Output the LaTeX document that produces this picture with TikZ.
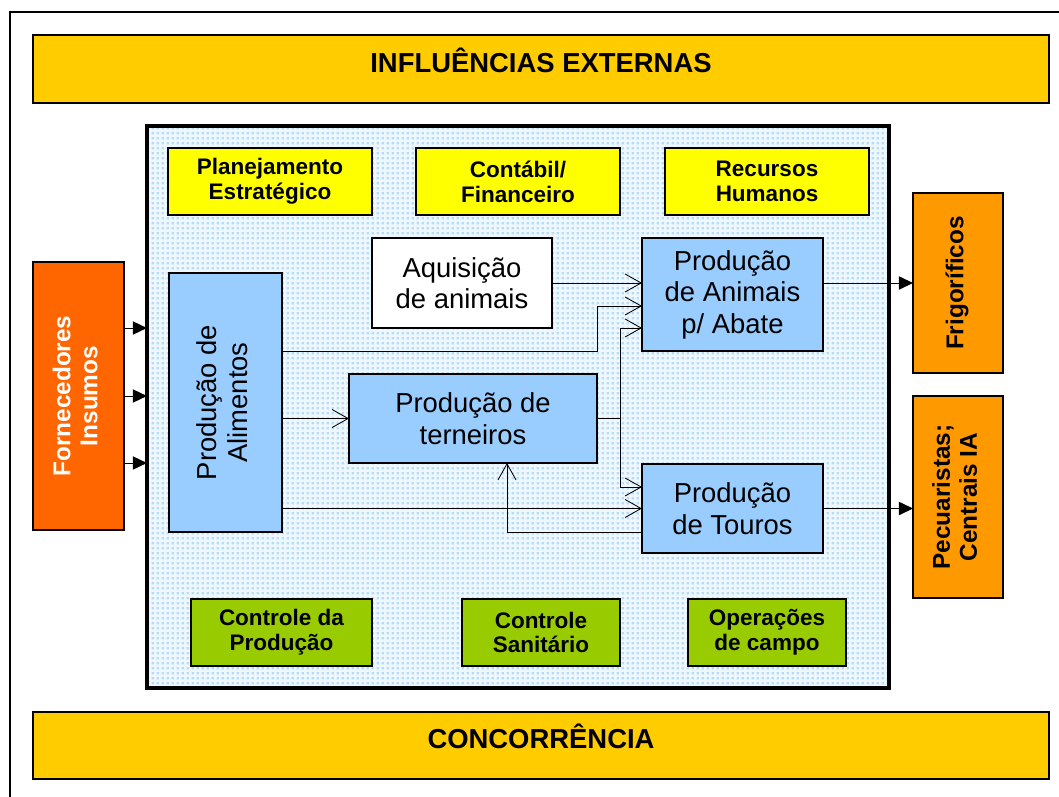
\documentclass[tikz,border=0pt]{standalone}
\usepackage{fontspec}
\setmainfont{Liberation Sans}
\usetikzlibrary{arrows.meta,patterns.meta}
\definecolor{bannergold}{HTML}{FFCC00}
\definecolor{deptyellow}{HTML}{FFFF00}
\definecolor{ctrlgreen}{HTML}{99CC00}
\definecolor{prodblue}{HTML}{99CCFF}
\definecolor{supplyorange}{HTML}{FF6600}
\definecolor{marketorange}{HTML}{FF9900}
\definecolor{farmback}{HTML}{EFF7FE}
\definecolor{dotblue}{HTML}{B6DCF8}
\tikzdeclarepattern{
  name=speckle,
  type=uncolored,
  bounding box={(0pt,0pt) and (3.6pt,3.6pt)},
  tile size={(3.6pt,3.6pt)},
  code={\fill (0.5pt,0.5pt) rectangle (2.5pt,2.5pt);}
}
\newcommand{\vlabel}[1]{\rotatebox{90}{\begin{tabular}{@{}c@{}}#1\end{tabular}}}
\begin{document}
\begin{tikzpicture}[x=0.025cm,y=-0.025cm,inner sep=2pt,outer sep=0pt,
banner/.style={draw,line width=1pt,fill=bannergold,minimum width=25.4cm,minimum height=1.7cm,text height=16pt,text depth=11.2pt,font=\fontsize{19.5}{22}\selectfont\bfseries},
deptbox/.style={draw,line width=1pt,fill=deptyellow,minimum width=5.1cm,minimum height=1.675cm,align=center,font=\fontsize{16}{17.7}\selectfont\bfseries},
ctrlbox/.style={deptbox,fill=ctrlgreen,minimum width=3.95cm},
prodbox/.style={draw,line width=1pt,fill=prodblue,align=center,font=\fontsize{19.5}{22.4}\selectfont},
marketbox/.style={draw,line width=1pt,fill=marketorange,minimum width=2.25cm,font=\fontsize{17.3}{19.2}\selectfont\bfseries},
flow/.style={line width=0.6pt,-{Straight Barb[length=0.4cm,width=0.45cm]}},
supply/.style={line width=0.7pt,-{Triangle[length=0.35cm,width=0.33cm]}}]

\useasboundingbox (0,0) rectangle (1059,796);
\draw[line width=0.8pt] (1070,12) -| (10,810);

\draw (541,69) node[banner] (ext) {INFLUÊNCIAS EXTERNAS};
\draw (541,745.5) node[banner,minimum height=1.675cm] (conc) {CONCORRÊNCIA};
\draw (518,407) node[draw,line width=2.8pt,preaction={fill=farmback},pattern=speckle,pattern color=dotblue,minimum width=18.55cm,minimum height=14.05cm] (farm) {};

\draw (270,181.5) node[deptbox] (plan) {Planejamento\\Estratégico};
\draw (518,181.5) node[deptbox] (cont) {Contábil/\\Financeiro};
\draw (767,181.5) node[deptbox] (rh) {Recursos\\Humanos};

\draw (462,283) node[prodbox,fill=white,minimum width=4.5cm,minimum height=2.25cm] (aqui) {Aquisição\\de animais};
\draw (225.5,402.5) node[prodbox,minimum width=2.825cm,minimum height=6.475cm] (alim) {\vlabel{Produção de\\Alimentos}};
\draw (473,418.5) node[prodbox,minimum width=6.2cm,minimum height=2.225cm] (tern) {Produção de\\terneiros};
\draw (732.5,294.5) node[prodbox,minimum width=4.525cm,minimum height=2.825cm] (abate) {Produção\\de Animais\\p/ Abate};
\draw (732.5,508.5) node[prodbox,minimum width=4.525cm,minimum height=2.225cm] (touros) {Produção\\de Touros};

\draw (78.5,396) node[marketbox,fill=supplyorange,text=white,minimum width=2.275cm,minimum height=6.7cm] (forn) {\vlabel{Fornecedores\\Insumos}};
\draw (958,283) node[marketbox,minimum height=4.5cm] (frig) {\vlabel{Frigoríficos}};
\draw (958,497) node[marketbox,minimum height=5.05cm] (pec) {\vlabel{Pecuaristas;\\Centrais IA}};

\draw (281.5,632.5) node[ctrlbox,minimum width=4.525cm] (cprod) {Controle da\\Produção};
\draw (541,632.5) node[ctrlbox] (csan) {Controle\\Sanitário};
\draw (767,632.5) node[ctrlbox] (oper) {Operações\\de campo};

\foreach \yy in {328,396,463}
  \draw[supply] (forn.east |- 0,\yy) -- (farm.west |- 0,\yy);
\draw[flow] (aqui.east) -- (aqui.east -| abate.west);
\draw[flow] (alim.east |- 0,351) -| (tern.east |- 0,306) -- (abate.west |- 0,306);
\draw[flow] (tern.east) -- ++(23,0) |- (abate.west |- 0,328);
\draw[flow] (tern.east) -- ++(23,0) |- (touros.west |- 0,487);
\draw[flow] (alim.east |- tern.west) -- (tern.west);
\draw[flow] (alim.east |- touros.west) -- (touros.west);
\draw[flow] (touros.west |- 0,532) -| (507,0 |- tern.south);
\draw[supply] (frig.west -| abate.east) -- (frig.west);
\draw[supply] (touros.east) -- (touros.east -| pec.west);
\end{tikzpicture}
\end{document}
